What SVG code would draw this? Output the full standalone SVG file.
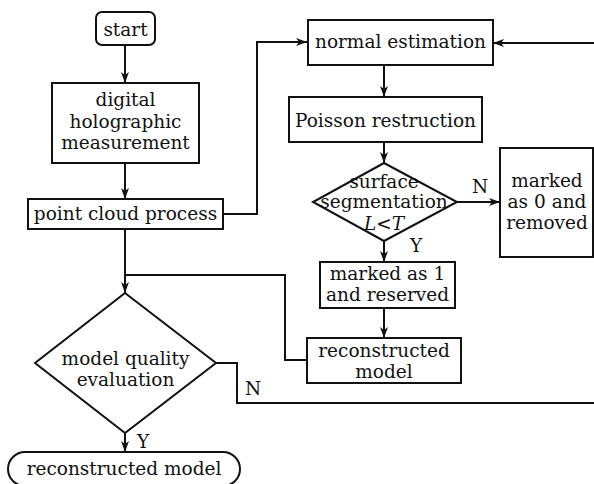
<svg xmlns="http://www.w3.org/2000/svg" width="594" height="484" viewBox="0 0 594 484">
<defs>
<marker id="arr" markerUnits="userSpaceOnUse" markerWidth="12" markerHeight="8" refX="11" refY="4" orient="auto">
<path d="M0,0 L11,4 L0,8 L3,4 Z" fill="#111"/>
</marker>
<style>
.box{fill:#fff;stroke:#111;stroke-width:2}
.t{font-family:"DejaVu Serif","Liberation Serif",serif;font-size:18.5px;fill:#111;text-anchor:middle}
.lbl{font-family:"DejaVu Serif","Liberation Serif",serif;font-size:18.5px;fill:#111}
.c{fill:none;stroke:#111;stroke-width:2}
.a{marker-end:url(#arr)}
</style>
</defs>
<rect width="594" height="484" fill="#fff"/>
<g id="connectors">
<path class="c a" d="M125,45 V83"/>
<path class="c a" d="M125,163 V199"/>
<path class="c a" d="M223,214 H257 V42 H307"/>
<path class="c a" d="M594,43 H493"/>
<path class="c a" d="M384,65 V97"/>
<path class="c a" d="M384,142 V163"/>
<path class="c a" d="M457,202 H500"/>
<path class="c a" d="M384,241 V262"/>
<path class="c a" d="M384,308 V338"/>
<path class="c" d="M307,360 H285 V275 H125"/>
<path class="c a" d="M125,229 V293"/>
<path class="c" d="M216,363 H237 V403 H594"/>
<path class="c a" d="M125,433 V452"/>
<text class="lbl" x="472" y="193">N</text>
<text class="lbl" x="410" y="252">Y</text>
<text class="lbl" x="245" y="395">N</text>
<text class="lbl" x="137" y="448">Y</text>
</g>
<g id="start">
<rect class="box" x="96" y="12" width="59" height="33" rx="6"/>
<text class="t" x="125.5" y="36">start</text>
</g>
<g id="digital">
<rect class="box" x="52" y="83" width="147" height="80"/>
<text class="t" x="125.5" y="106">digital</text>
<text class="t" x="125.5" y="128">holographic</text>
<text class="t" x="125.5" y="149">measurement</text>
</g>
<g id="pointcloud">
<rect class="box" x="28" y="199" width="195" height="30"/>
<text class="t" x="125.5" y="220">point cloud process</text>
</g>
<g id="normal">
<rect class="box" x="308" y="20" width="185" height="45"/>
<text class="t" x="400.5" y="48">normal estimation</text>
</g>
<g id="poisson">
<rect class="box" x="289" y="97" width="193" height="45"/>
<text class="t" x="385.5" y="127">Poisson restruction</text>
</g>
<g id="surface">
<polygon class="box" points="384,163 457,202 384,241 313,202"/>
<text class="t" x="384" y="188">surface</text>
<text class="t" x="384" y="208">segmentation</text>
<text class="t" x="384" y="230" font-style="italic">L&lt;T</text>
</g>
<g id="marked0">
<rect class="box" x="500" y="148" width="93" height="109"/>
<text class="t" x="547" y="187">marked</text>
<text class="t" x="547" y="208">as 0 and</text>
<text class="t" x="547" y="229">removed</text>
</g>
<g id="marked1">
<rect class="box" x="320" y="262" width="135" height="46"/>
<text class="t" x="387.5" y="280">marked as 1</text>
<text class="t" x="387.5" y="301">and reserved</text>
</g>
<g id="recon">
<rect class="box" x="307" y="338" width="154" height="45"/>
<text class="t" x="384" y="357">reconstructed</text>
<text class="t" x="384" y="378">model</text>
</g>
<g id="quality">
<polygon class="box" points="125,293 216,363 125,433 35,363"/>
<text class="t" x="125.5" y="365">model quality</text>
<text class="t" x="125.5" y="386">evaluation</text>
</g>
<g id="final">
<rect class="box" x="8" y="452" width="232" height="34" rx="17"/>
<text class="t" x="124" y="475">reconstructed model</text>
</g>
</svg>
